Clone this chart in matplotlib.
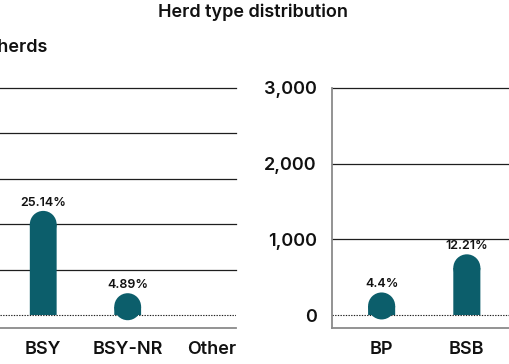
import matplotlib
matplotlib.use("Agg")
import matplotlib.pyplot as plt
from matplotlib.patches import Ellipse

# ---------------------------------------------------------------------------
# Data
# ---------------------------------------------------------------------------

LEFT_CATS   = ["BSY", "BSY-NR", "Other"]
LEFT_VALUES = [1720, 360, 0]
LEFT_PCTS   = ["25.14%", "4.89%", ""]
LEFT_TICKS  = [0, 750, 1500, 2250, 3000, 3750]

RIGHT_CATS   = ["BP", "BSB"]
RIGHT_VALUES = [298, 802]
RIGHT_PCTS   = ["4.4%", "12.21%"]
RIGHT_TICKS  = [0, 1000, 2000, 3000]

TITLE      = "Herd type distribution"
LEFT_TITLE = "Number of herds"

# ---------------------------------------------------------------------------
# Style
# ---------------------------------------------------------------------------

BAR_COLOR   = "#0c5e6b"
GRID_COLOR  = "#1e1e1e"
SPINE_COLOR = "#8a8a8a"
TEXT_COLOR  = "#111111"
BAR_PX      = 27          # bar width in pixels
SPACING_PX  = 85          # category spacing in pixels
WEIGHT      = 600
FS          = 13

plt.rcParams["font.family"] = ["Inter", "DejaVu Sans"]

W, H, DPI = 510, 364, 100
fig = plt.figure(figsize=(W / DPI, H / DPI), dpi=DPI)
fig.patch.set_facecolor("white")


def px_axes(x0, x1, y_top, y_bot):
    return fig.add_axes([x0 / W, 1 - y_bot / H, (x1 - x0) / W, (y_bot - y_top) / H])


def draw_bars(ax, values, pcts):
    xs = range(len(values))
    w = BAR_PX / SPACING_PX
    (_, y0), (_, y1) = ax.transData.transform([(0, 0), (0, 1)])
    r = (BAR_PX / 2) / (y1 - y0)            # cap radius in data units
    for x, v, p in zip(xs, values, pcts):
        if v <= 0:
            continue
        bars = ax.bar(x, v - r, width=w, bottom=0, color=BAR_COLOR, linewidth=0, zorder=3)
        for b in bars:
            b.set_snap(False)
        ax.add_patch(Ellipse((x, v - r), w, 2 * r, facecolor=BAR_COLOR,
                             edgecolor="none", zorder=3))
        ax.text(x, v + 2 / (y1 - y0), p, ha="center", va="bottom",
                fontsize=9, fontweight=WEIGHT, color=TEXT_COLOR, zorder=4)


def style_axis(ax, ticks, cats, show_left):
    for t in ticks[1:]:
        ax.axhline(t, color=GRID_COLOR, lw=0.9, zorder=1, clip_on=False)
    ax.axhline(0, color=GRID_COLOR, lw=0.8, ls=(0, (1.2, 1.2)), zorder=1)
    ax.set_yticks(ticks)
    if show_left:
        ax.set_yticklabels([f"{t:,}" for t in ticks], fontsize=FS, fontweight=WEIGHT,
                           color=TEXT_COLOR)
    else:
        ax.set_yticklabels([])
    ax.tick_params(axis="y", length=0, pad=11)
    ax.set_xticks(range(len(cats)))
    ax.set_xticklabels(cats, fontsize=FS, fontweight=WEIGHT, color=TEXT_COLOR)
    ax.tick_params(axis="x", length=0, pad=9)
    ax.spines["top"].set_visible(False)
    ax.spines["right"].set_visible(False)
    ax.spines["left"].set_visible(show_left)
    for s in ("left", "bottom"):
        ax.spines[s].set_color(SPINE_COLOR)
        ax.spines[s].set_linewidth(1.3)


# Left panel (cropped at the left edge)
ax_l = px_axes(0, 236, 88, 328)
ax_l.set_xlim(-43.5 / SPACING_PX, 2 + 24 / SPACING_PX)
ax_l.set_ylim(-13 / 45.4 * 750, 3750)
style_axis(ax_l, LEFT_TICKS, LEFT_CATS, show_left=False)
draw_bars(ax_l, LEFT_VALUES, LEFT_PCTS)

# Right panel (cropped at the right edge)
ax_r = px_axes(332, 530, 88, 328)
ax_r.set_xlim(-49.5 / SPACING_PX, 1 + 63 / SPACING_PX)
ax_r.set_ylim(-13 / 75.7 * 1000, 3000)
style_axis(ax_r, RIGHT_TICKS, RIGHT_CATS, show_left=True)
draw_bars(ax_r, RIGHT_VALUES, RIGHT_PCTS)

fig.text(253 / W, 1 - 12 / H, TITLE, ha="center", va="center",
         fontsize=FS, fontweight=WEIGHT, color=TEXT_COLOR)
fig.text(47 / W, 1 - 47 / H, LEFT_TITLE, ha="right", va="center",
         fontsize=FS, fontweight=WEIGHT, color=TEXT_COLOR)

fig.savefig("out.png", dpi=DPI, facecolor="white")
